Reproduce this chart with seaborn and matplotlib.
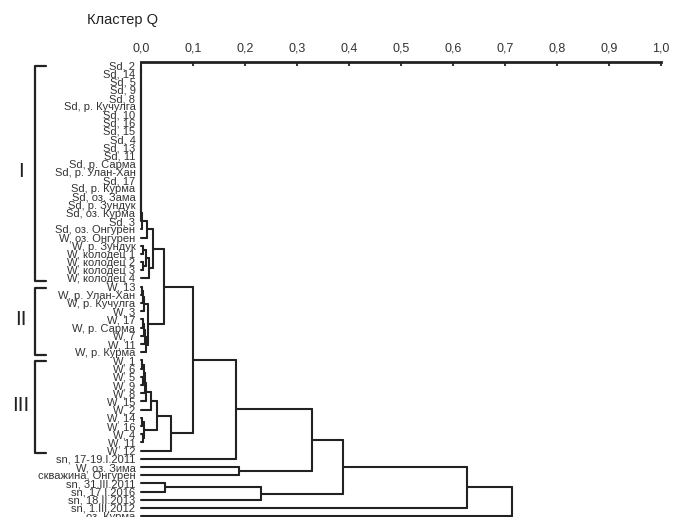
import pandas as pd
import seaborn as sns
import matplotlib.pyplot as plt
from matplotlib.transforms import blended_transform_factory

# leaf labels, top to bottom
leaves = [
    "Sd, 2", "Sd, 14", "Sd, 5", "Sd, 9", "Sd, 8", "Sd, р. Кучулга", "Sd, 10",
    "Sd, 16", "Sd, 15", "Sd, 4", "Sd, 13", "Sd, 11", "Sd, р. Сарма",
    "Sd, р. Улан-Хан", "Sd, 17", "Sd, р. Курма", "Sd, оз. Зама", "Sd, р. Зундук",
    "Sd, оз. Курма", "Sd, 3", "Sd, оз. Онгурен", "W, оз. Онгурен", "W, р. Зундук",
    "W, колодец 1", "W, колодец 2", "W, колодец 3", "W, колодец 4", "W, 13",
    "W, р. Улан-Хан", "W, р. Кучулга", "W, 3", "W, 17", "W, р. Сарма", "W, 7",
    "W, 11", "W, р. Курма", "W, 1", "W, 6", "W, 5", "W, 9", "W, 8", "W, 15",
    "W, 2", "W, 14", "W, 16", "W, 4", "W, 11", "W, 12", "sn, 17-19.I.2011",
    "W, оз. Зима", "скважина, Онгурен", "sn, 31.III.2011", "sn, 17.I.2016",
    "sn, 18.II.2013", "sn, 1.III.2012", "оз. Курма",
]

# merges (child a, child b, linkage distance); new cluster id = 56 + row number
merges = [
    (0, 1, 0.0), (56, 2, 0.0), (57, 3, 0.0), (58, 4, 0.0), (59, 5, 0.0),
    (60, 6, 0.0), (61, 7, 0.0), (62, 8, 0.0), (63, 9, 0.0), (64, 10, 0.0),
    (65, 11, 0.0), (66, 12, 0.0), (67, 13, 0.0), (68, 14, 0.0), (69, 15, 0.0),
    (70, 16, 0.0), (71, 17, 0.0), (72, 18, 0.0), (73, 19, 0.0), (74, 20, 0.001),
    (75, 21, 0.012),
    (22, 23, 0.004), (24, 25, 0.003), (77, 78, 0.010), (79, 26, 0.016),
    (76, 80, 0.024),
    (27, 28, 0.002), (82, 29, 0.004), (83, 30, 0.006),
    (31, 32, 0.003), (85, 33, 0.005), (86, 34, 0.007), (87, 35, 0.009),
    (84, 88, 0.014),
    (81, 89, 0.045),
    (36, 37, 0.002), (38, 39, 0.003), (91, 92, 0.005), (93, 40, 0.007),
    (94, 41, 0.009), (95, 42, 0.019),
    (43, 44, 0.002), (45, 46, 0.003), (97, 98, 0.005),
    (96, 99, 0.031), (100, 47, 0.057),
    (90, 101, 0.100),
    (102, 48, 0.183),
    (49, 50, 0.188),
    (103, 104, 0.329),
    (51, 52, 0.046),
    (106, 53, 0.231),
    (105, 107, 0.389),
    (108, 54, 0.627),
    (109, 55, 0.713),
]

group_names = ["I", "II", "III"]
group_first = [0, 27, 36]
group_last = [26, 35, 47]

xticks = [0.0, 0.1, 0.2, 0.3, 0.4, 0.5, 0.6, 0.7, 0.8, 0.9, 1.0]

sns.set_theme(style="white")
plt.rcParams['font.family'] = ['Liberation Sans', 'DejaVu Sans']

# dendrogram segments
ypos = list(range(len(leaves)))
hgt = [0.0] * len(leaves)
rows = []
seg = 0
for a, b, h in merges:
    for c in (a, b):
        rows += [(seg, hgt[c], ypos[c]), (seg, h, ypos[c])]
        seg += 1
    rows += [(seg, h, ypos[a]), (seg, h, ypos[b])]
    seg += 1
    ypos.append((ypos[a] + ypos[b]) / 2)
    hgt.append(h)
segs = pd.DataFrame(rows, columns=["seg", "x", "y"])

fig = plt.figure(figsize=(6.74, 5.17), dpi=100)
ax = fig.add_axes([141 / 674, 0, 520 / 674, (517 - 61.7) / 517])

sns.lineplot(data=segs, x="x", y="y", units="seg", estimator=None, sort=False,
             color="#222222", lw=1.5, ax=ax, clip_on=False)

ax.set_xlim(0, 1)
ax.set_ylim(55.1, -0.45)
ax.set_xlabel("")
ax.set_ylabel("")
ax.grid(False)

ax.xaxis.tick_top()
ax.set_xticks(xticks)
ax.set_xticklabels([f"{t:.1f}".replace(".", ",") for t in xticks])
ax.tick_params(axis="x", direction="in", length=3, width=1.3, color="#222222",
               labelsize=9, labelcolor="#333333", pad=5)

ax.set_yticks(range(len(leaves)))
ax.set_yticklabels(leaves)
ax.tick_params(axis="y", length=0, labelsize=8, labelcolor="#333333", pad=4)

for side in ["left", "right", "bottom"]:
    ax.spines[side].set_visible(False)
ax.spines["top"].set_linewidth(2)
ax.spines["top"].set_color("#222222")

# cluster brackets
trans = blended_transform_factory(fig.transFigure, ax.transData)
x1, x2 = 35 / 674, 46 / 674
for name, f, l in zip(group_names, group_first, group_last):
    ax.plot([x2, x1, x1, x2], [f + 0.1, f + 0.1, l + 0.3, l + 0.3],
            transform=trans, clip_on=False, color="#222222", lw=1.6)
    ax.text(21 / 674, (f + l) / 2, name, transform=trans, fontsize=15,
            ha="center", va="center", color="#222222")

fig.text(87 / 674, 1 - 20 / 517, "Кластер Q", fontsize=10.5, ha="left",
         va="center", color="#222222")

fig.savefig("out.png", dpi=100)
